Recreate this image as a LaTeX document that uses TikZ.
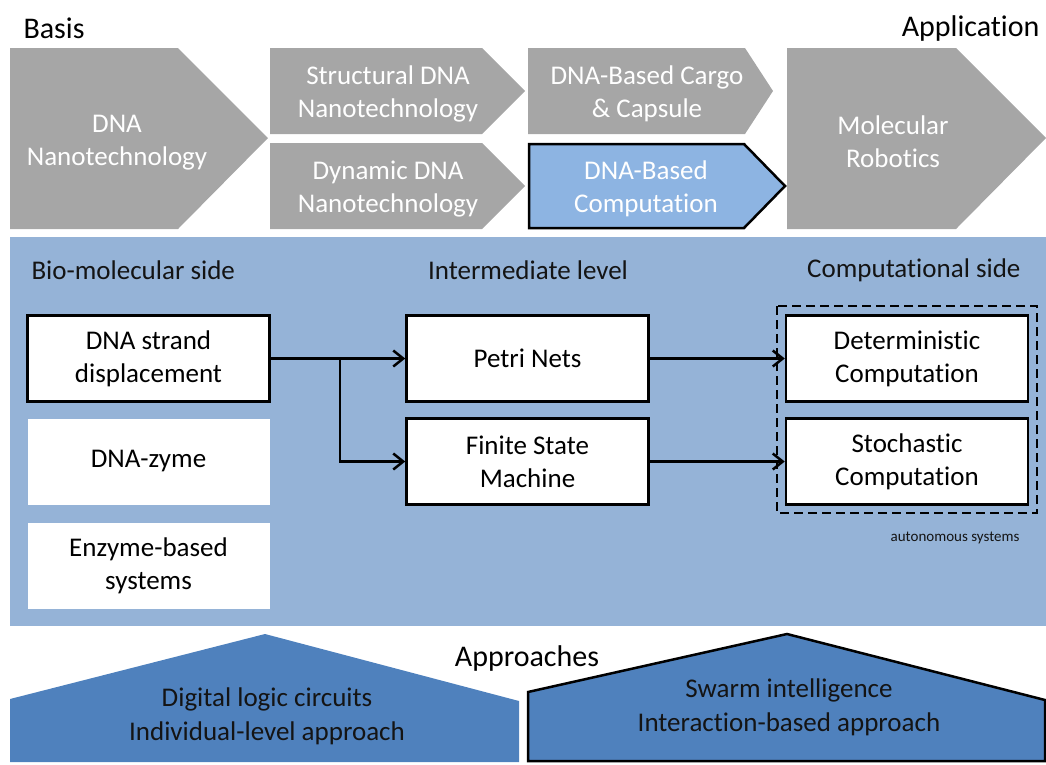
\documentclass[tikz,border=0pt]{standalone}
\usepackage{fontspec}
\setmainfont[Ligatures={NoCommon,NoContextual},RawFeature={-liga;-clig;-dlig}]{Carlito}
\usetikzlibrary{arrows.meta}
\definecolor{chevgray}{HTML}{A6A6A6}
\definecolor{bandblue}{HTML}{95B3D7}
\definecolor{compblue}{HTML}{8DB4E2}
\definecolor{penta}{HTML}{4F81BD}
\definecolor{darktext}{HTML}{141414}
\tikzset{
  chevtext/.style={text=white,align=center,font=\fontsize{27}{33}\selectfont},
  headtext/.style={text=black,font=\fontsize{30}{36}\selectfont},
  sidetext/.style={text=darktext,font=\fontsize{27}{33}\selectfont},
  boxnode/.style={draw=black,line width=2.5pt,fill=white,align=center,minimum width=242pt,minimum height=86pt,inner sep=0pt,text=black,font=\fontsize{27}{33}\selectfont},
  plainbox/.style={fill=white,align=center,minimum width=242pt,minimum height=86pt,inner sep=0pt,text=black,font=\fontsize{27}{33}\selectfont},
  conn/.style={line width=2.5pt,-{Straight Barb[length=10pt,width=16pt,line width=2.5pt]}},
  pentatext/.style={text=darktext,align=center,font=\fontsize{27}{34}\selectfont},
}
\begin{document}
\begin{tikzpicture}[x=1pt,y=-1pt]
\useasboundingbox (0,0) rectangle (1046,764);
% headings
\node[headtext,anchor=west] (basis) at (20,28) {Basis};
\node[headtext,anchor=east] (appl) at (1043,28) {Application};
% chevrons
\fill[chevgray] (10,48) -- (178,48) -- (268,138) -- (178,229) -- (10,229) -- cycle;
\node[chevtext] (dnanano) at (117,143) {DNA\\Nanotechnology};
\fill[chevgray] (270,48) -- (482,48) -- (525,91) -- (482,134) -- (270,134) -- cycle;
\node[chevtext] (struct) at (388,94) {Structural DNA\\Nanotechnology};
\fill[chevgray] (270,143) -- (482,143) -- (525,186) -- (482,229) -- (270,229) -- cycle;
\node[chevtext] (dynamic) at (388,189) {Dynamic DNA\\Nanotechnology};
\fill[chevgray] (528,48) -- (745,48) -- (773,91) -- (745,134) -- (528,134) -- cycle;
\node[chevtext] (cargo) at (647,94) {DNA-Based Cargo\\\& Capsule};
\filldraw[fill=compblue,draw=black,line width=2.5pt,line join=miter] (529,144) -- (744,144) -- (785,186) -- (744,228) -- (529,228) -- cycle;
\node[chevtext] (comp) at (646,189) {DNA-Based\\Computation};
\fill[chevgray] (787,48) -- (956,48) -- (1046,138) -- (956,229) -- (787,229) -- cycle;
\node[chevtext] (robot) at (893,142) {Molecular\\Robotics};
% band
\fill[bandblue] (10,237) rectangle (1046,626);
\node[sidetext,anchor=west] (bio) at (28,270) {Bio-molecular side};
\node[sidetext] (inter) at (528,270) {Intermediate level};
\node[sidetext,anchor=east] (compside) at (1024,270) {Computational side};
% boxes
\node[boxnode] (dsd) at (148.5,358.5) {DNA strand\\displacement};
\node[plainbox] (zyme) at (148.5,461.5) {DNA-zyme};
\node[plainbox] (enzyme) at (148.5,565.5) {Enzyme-based\\systems};
\node[boxnode] (petri) at (527.5,358.5) {Petri Nets};
\node[boxnode] (fsm) at (527.5,461.5) {Finite State\\Machine};
\node[boxnode] (det) at (907,358.5) {Deterministic\\Computation};
\node[boxnode] (sto) at (907,461.5) {Stochastic\\Computation};
\draw[line width=2.5pt,dash pattern=on 9pt off 5pt] (777,306) rectangle (1037,513);
\node[text=darktext,font=\fontsize{15}{18}\selectfont,anchor=east] (auto) at (1023,538) {autonomous systems};
% connectors
\coordinate (branch) at (340,358.5);
\draw[conn] (dsd.east) -- (petri.west);
\draw[conn] (branch) |- (fsm.west);
\draw[conn] (petri.east) -- (det.west);
\draw[conn] (fsm.east) -- (sto.west);
% approaches
\node[headtext] (appr) at (527,658) {Approaches};
\fill[penta] (10,762) -- (10,699) -- (265,634) -- (519,701) -- (519,762) -- cycle;
\node[pentatext] (digital) at (267,716) {Digital logic circuits\\Individual-level approach};
\filldraw[fill=penta,draw=black,line width=2.5pt,line join=miter] (528,761) -- (528,692) -- (787,634) -- (1045,700) -- (1045,761) -- cycle;
\node[pentatext] (swarm) at (789,707) {Swarm intelligence\\Interaction-based approach};
\end{tikzpicture}
\end{document}
